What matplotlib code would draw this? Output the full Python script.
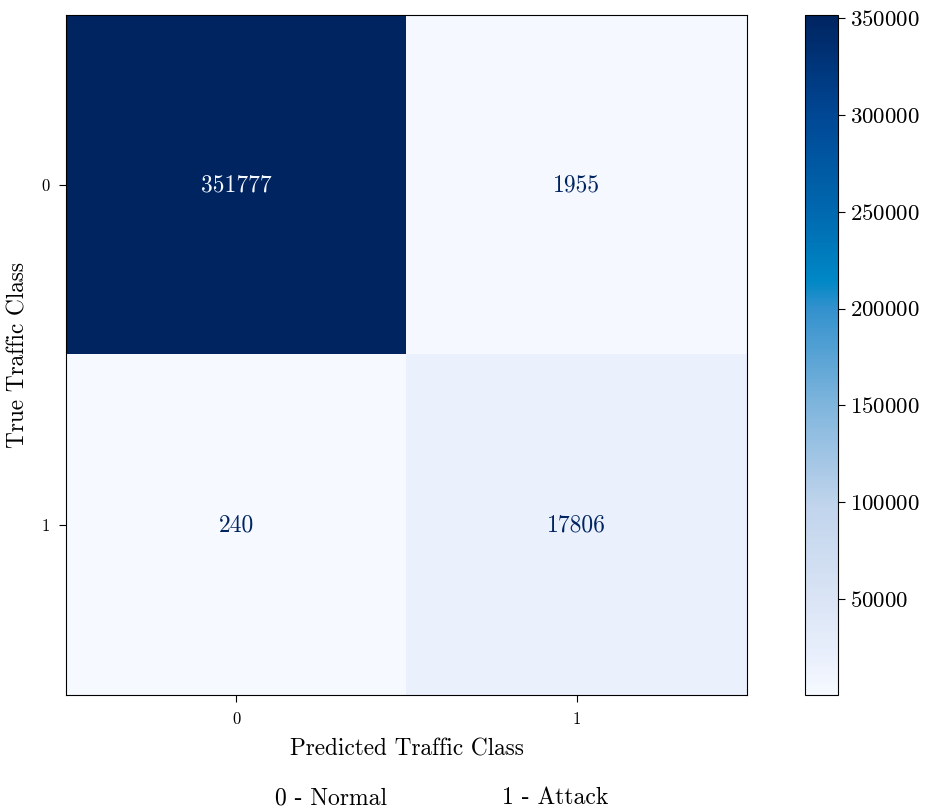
import numpy as np
import matplotlib
matplotlib.use("Agg")
import matplotlib.pyplot as plt
from matplotlib.colors import LinearSegmentedColormap

plt.rcParams['font.family'] = ['cmr10']
plt.rcParams['mathtext.fontset'] = 'cm'
plt.rcParams['axes.formatter.use_mathtext'] = True

classes = ['0', '1']
cm = np.array([[351777, 1955],
               [240, 17806]])
cbar_ticks = [50000, 100000, 150000, 200000, 250000, 300000, 350000]
legend_text = ['0 - Normal', '1 - Attack']

# colour stops
stop_pos = [0.0, 0.05, 0.14, 0.28, 0.43, 0.57, 0.61, 0.71, 0.85, 1.0]
stop_rgb = [(246, 249, 255), (234, 240, 252), (218, 228, 245), (192, 212, 236),
            (125, 180, 220), (50, 145, 205), (0, 136, 198), (0, 105, 175),
            (0, 72, 150), (0, 36, 96)]
cmap = LinearSegmentedColormap.from_list(
    'refblues', [(p, tuple(c / 255 for c in rgb)) for p, rgb in zip(stop_pos, stop_rgb)])

W, H = 928, 808
fig = plt.figure(figsize=(W / 100, H / 100), dpi=100)
ax = fig.add_axes([66 / W, 1 - 695 / H, 681 / W, 680 / H])
cax = fig.add_axes([805 / W, 1 - 695 / H, 33 / W, 680 / H])

im = ax.imshow(cm, cmap=cmap, interpolation='nearest', aspect='auto')

thresh = (cm.max() + cm.min()) / 2
for i in range(cm.shape[0]):
    for j in range(cm.shape[1]):
        c = cmap(0.0) if cm[i, j] > thresh else cmap(1.0)
        ax.text(j, i, str(cm[i, j]), ha='center', va='center', color=c, fontsize=17)

ax.set_xticks(range(len(classes)))
ax.set_xticklabels(classes, fontsize=12)
ax.set_yticks(range(len(classes)))
ax.set_yticklabels(classes, fontsize=12)
ax.tick_params(length=5, pad=7)
ax.set_xlabel('Predicted Traffic Class', fontsize=16.8, labelpad=8)
ax.set_ylabel('True Traffic Class', fontsize=16.8, labelpad=8)

cb = fig.colorbar(im, cax=cax)
cb.set_ticks(cbar_ticks)
cb.ax.tick_params(labelsize=16.5, length=5)

fig.text(331 / W, 1 - 798 / H, legend_text[0], ha='center', va='center', fontsize=17)
fig.text(555 / W, 1 - 798 / H, legend_text[1], ha='center', va='center', fontsize=17)

fig.savefig('out.png', dpi=100)
